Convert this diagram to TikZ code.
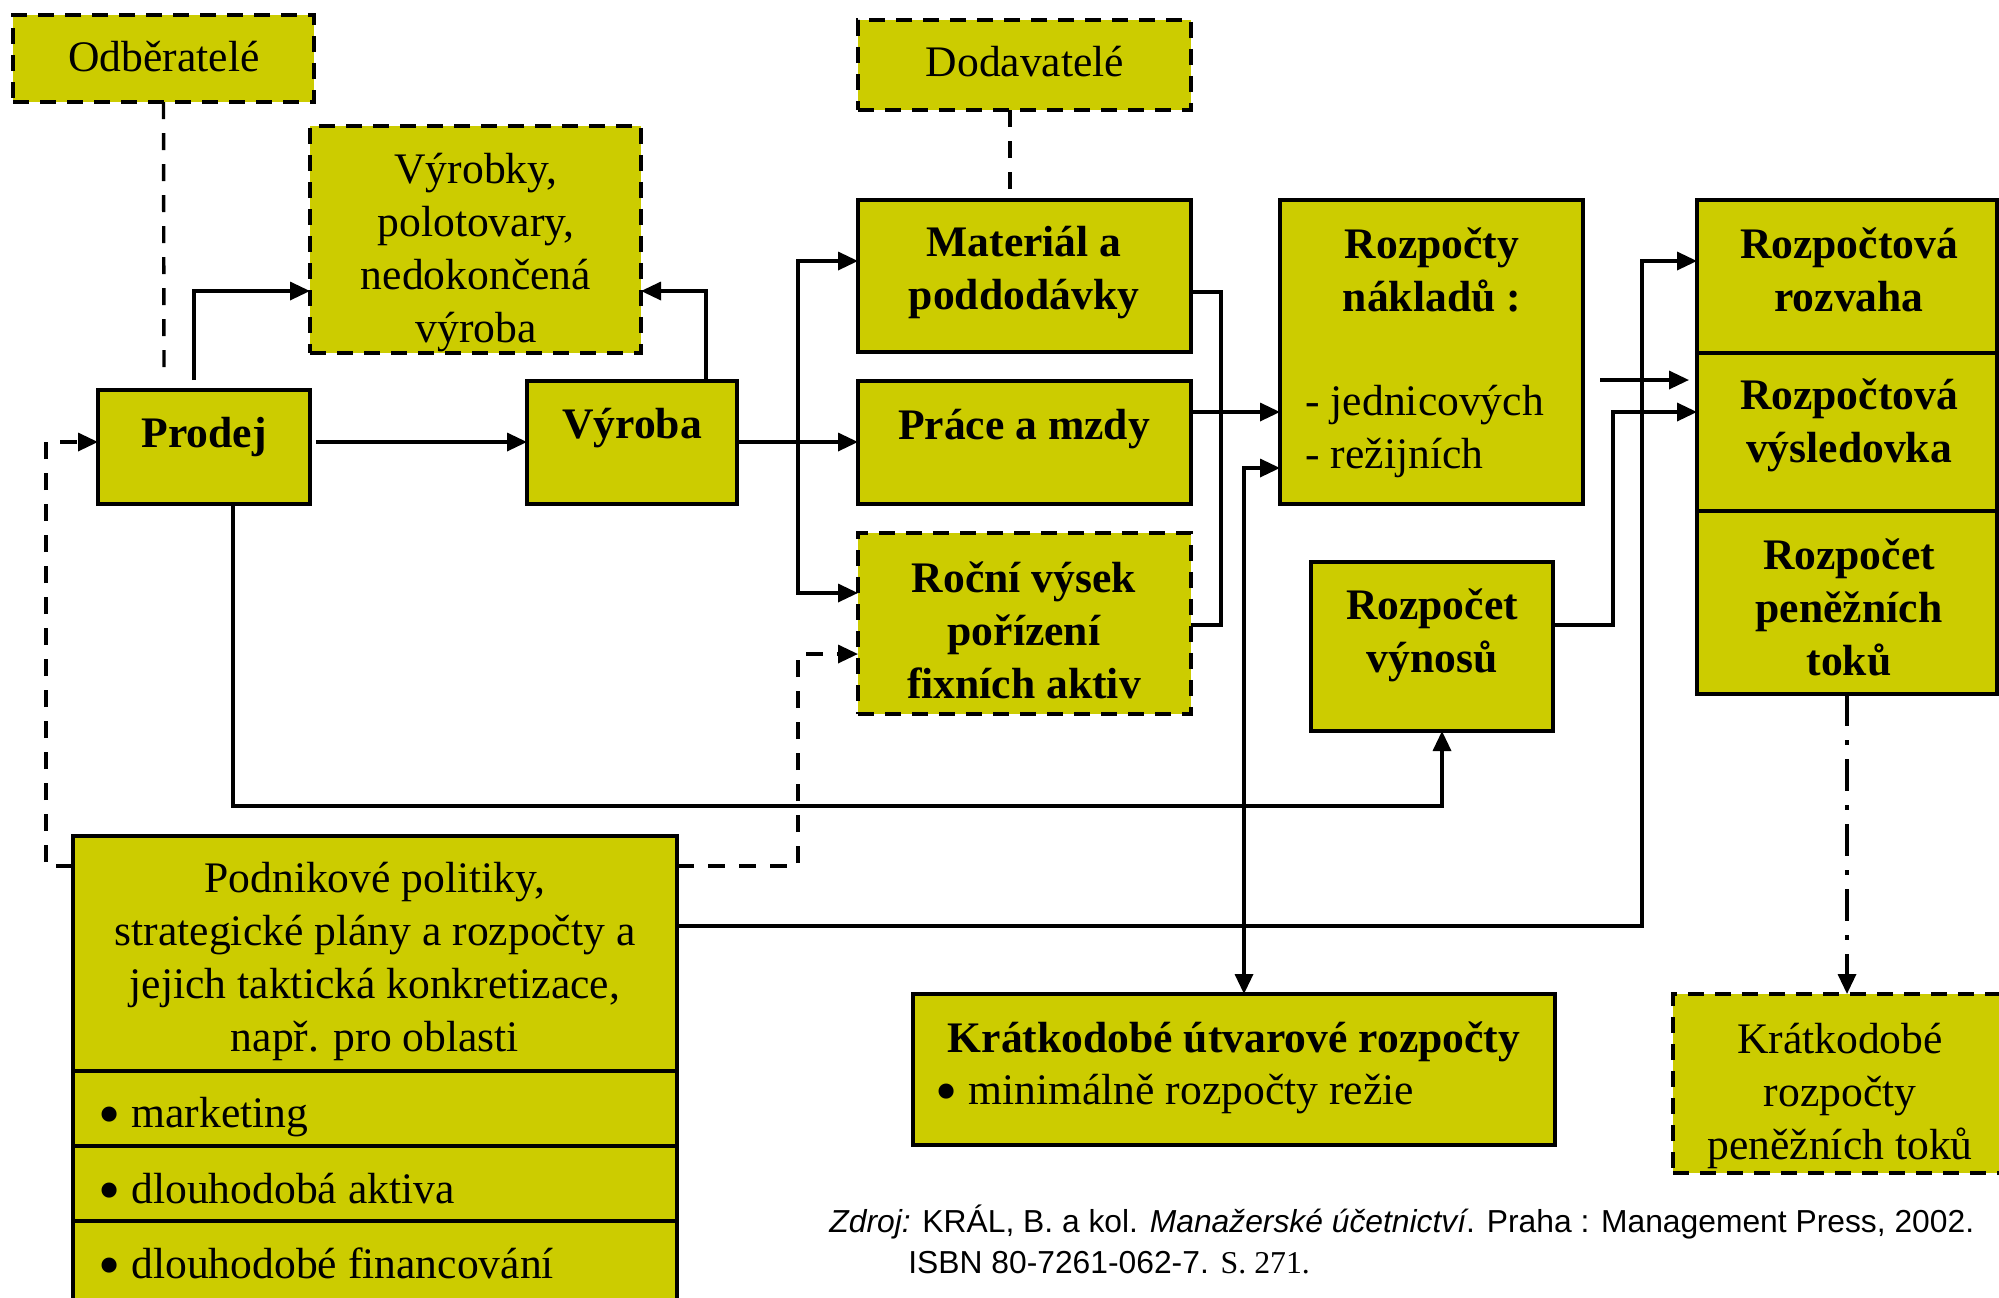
\documentclass[tikz,border=0pt]{standalone}
\usepackage{fontspec}
\setmainfont{Liberation Serif}
\setsansfont{Liberation Sans}
\usetikzlibrary{arrows.meta,fit}
\definecolor{boxfill}{RGB}{204,204,0}
\newcommand\boxfont{\fontsize{21.8pt}{26.5pt}\selectfont}
\newcommand\bigbul{\raisebox{-4.3pt}{\scalebox{1.45}{\textbullet}}}
\begin{document}
\begin{tikzpicture}[x=0.5pt,y=-0.5pt,
  box/.style={draw=black,fill=boxfill,line width=2.2pt,inner sep=0pt,outer sep=0pt},
  dbox/.style={box,line width=2.4pt,dash pattern=on 8pt off 5.5pt},
  txt/.style={inner sep=0pt,align=center,font=\boxfont},
  btxt/.style={txt,font=\boxfont\bfseries},
  tip/.style={-{Triangle[length=10pt,width=9pt]}},
  line/.style={line width=1.7pt},
  conn/.style={line,tip},
  dline/.style={line width=1.7pt,dash pattern=on 8.5pt off 7pt},
  dconn/.style={dline,tip},
  ddconn/.style={line width=1.7pt,dash pattern=on 16pt off 7pt on 2.5pt off 7pt,tip}]
\useasboundingbox (0,0) rectangle (1999,1297);
% ---------- boxes ----------
\node[dbox, fit={(13,15) (314,102)}] (odb) {};
\node[dbox, fit={(310,126) (641,353)}] (vyr) {};
\node[box, fit={(98,390) (310,504)}] (prodej) {};
\node[box, fit={(527,381) (737,504)}] (vyroba) {};
\node[dbox, fit={(858,20) (1191,110)}] (dod) {};
\node[box, fit={(858,200) (1191,352)}] (mat) {};
\node[box, fit={(858,381) (1191,504)}] (prace) {};
\node[dbox, fit={(858,533) (1191,714)}] (rocni) {};
\node[box, fit={(1280,200) (1583,504)}] (nakl) {};
\node[box, fit={(1311,562) (1553,731)}] (vynos) {};
\node[box, fit={(1697,200) (1997,353)}] (rozv) {};
\node[box, fit={(1697,353) (1997,511)}] (vysl) {};
\node[box, fit={(1697,511) (1997,694)}] (toky) {};
\node[box, fit={(73,836) (677,1071)}] (pod) {};
\node[box, fit={(73,1071) (677,1146)}] (pm) {};
\node[box, fit={(73,1146) (677,1221)}] (pa) {};
\node[box, fit={(73,1221) (677,1300)}] (pf) {};
\node[box, fit={(913,994) (1555,1145)}] (kut) {};
\node[dbox, fit={(1673,994) (2004,1173)}] (kpt) {};
% ---------- texts ----------
\node[txt] (odb-t) at (164,57) {Odběratelé};
\node[txt] (vyr-t) at (476,253) {Výrobky,\\polotovary,\\nedokončená\\výroba};
\node[btxt] (prodej-t) at (204,437) {Prodej};
\node[btxt] (vyroba-t) at (632,428) {Výroba};
\node[txt] (dod-t) at (1025,62) {Dodavatelé};
\node[btxt] (mat-t) at (1024,273) {Materiál a\\poddodávky};
\node[btxt] (prace-t) at (1024,429) {Práce a mzdy};
\node[btxt] (rocni-t) at (1024,630) {Roční výsek\\pořízení\\fixních aktiv};
\node[btxt] (nakl-t) at (1432,270) {Rozpočty\\nákladů :};
\node[txt, anchor=west, align=left] (nakl-l) at (1305,431) {- jednicových\\- režijních};
\node[btxt] (vynos-t) at (1432,635) {Rozpočet\\výnosů};
\node[btxt] (rozv-t) at (1849,270) {Rozpočtová\\rozvaha};
\node[btxt] (vysl-t) at (1849,425) {Rozpočtová\\výsledovka};
\node[btxt] (toky-t) at (1849,607) {Rozpočet\\peněžních\\toků};
\node[txt] (pod-t) at (375,961) {Podnikové politiky,\\strategické plány a rozpočty a\\jejich taktická konkretizace,\\např. pro oblasti};
\node[txt, anchor=base west] (pm-t) at (98,1127) {\bigbul{} marketing};
\node[txt, anchor=base west] (pa-t) at (98,1203) {\bigbul{} dlouhodobá aktiva};
\node[txt, anchor=base west] (pf-t) at (98,1278) {\bigbul{} dlouhodobé financování};
\node[btxt] (kut-t) at (1234,1042) {Krátkodobé útvarové rozpočty};
\node[txt, anchor=base west] (kut-l) at (935,1104) {\bigbul{} minimálně rozpočty režie};
\node[txt] (kpt-t) at (1840,1096) {Krátkodobé\\rozpočty\\peněžních toků};
\node[anchor=west, inner sep=0pt, font=\sffamily\fontsize{15.9pt}{19pt}\selectfont] (src1) at (829,1222)
  {\textit{Zdroj:} KRÁL, B. a kol. \textit{Manažerské účetnictví}. Praha : Management Press, 2002.};
\node[anchor=west, inner sep=0pt, font=\sffamily\fontsize{15.9pt}{19pt}\selectfont] (src2) at (908,1263)
  {ISBN 80-7261-062-7. {\rmfamily S. 271.}};
% ---------- helper coordinates ----------
\coordinate (c1) at (164,376);
\coordinate (c2a) at (194,380);
\coordinate (c2b) at (194,291);
\coordinate (c3) at (316,442);
\coordinate (c4) at (706,291);
\coordinate (c6j) at (798,442);
\coordinate (c6m) at (798,261);
\coordinate (c6r) at (798,593);
\coordinate (c7) at (1010,191);
\coordinate (c8a) at (1221,292);
\coordinate (c8b) at (1221,625);
\coordinate (c8p) at (1221,412);
\coordinate (c9j) at (1244,926);
\coordinate (c9n) at (1244,468);
\coordinate (c10a) at (233,806);
\coordinate (c10b) at (1442,806);
\coordinate (c11a) at (1613,625);
\coordinate (c11b) at (1613,412);
\coordinate (c12a) at (1600,380);
\coordinate (c12b) at (1689,380);
\coordinate (c13a) at (1642,926);
\coordinate (c13b) at (1642,261);
\coordinate (c14a) at (46,866);
\coordinate (c14b) at (46,442);
\coordinate (c15a) at (798,866);
\coordinate (c15b) at (798,654);
% ---------- connectors ----------
\draw[dline] (odb.south) -- (c1);
\draw[conn] (c2a) -- (c2b) -- (vyr.west |- c2b);
\draw[conn] (c3) -- (vyroba.west |- c3);
\draw[conn] (vyroba.north -| c4) -- (c4) -- (vyr.east |- c4);
\draw[conn] (vyroba.east |- c6j) -- (prace.west |- c6j);
\draw[conn] (c6j) -- (c6m) -- (mat.west |- c6m);
\draw[conn] (c6j) -- (c6r) -- (rocni.west |- c6r);
\draw[dline] (dod.south -| c7) -- (c7);
\draw[line] (mat.east |- c8a) -- (c8a) -- (c8b) -- (rocni.east |- c8b);
\draw[conn] (prace.east |- c8p) -- (nakl.west |- c8p);
\draw[conn] (c9j) -- (c9n) -- (nakl.west |- c9n);
\draw[conn] (c9j) -- (kut.north -| c9j);
\draw[conn] (prodej.south -| c10a) -- (c10a) -- (c10b) -- (vynos.south -| c10b);
\draw[conn] (vynos.east |- c11a) -- (c11a) -- (c11b) -- (vysl.west |- c11b);
\draw[conn] (c12a) -- (c12b);
\draw[conn] (pod.east |- c13a) -- (c13a) -- (c13b) -- (rozv.west |- c13b);
\draw[dconn] (pod.west |- c14a) -- (c14a) -- (c14b) -- (prodej.west |- c14b);
\draw[dconn] (pod.east |- c15a) -- (c15a) -- (c15b) -- (rocni.west |- c15b);
\draw[ddconn] (toky.south) -- (kpt.north -| toky.south);
\end{tikzpicture}
\end{document}
